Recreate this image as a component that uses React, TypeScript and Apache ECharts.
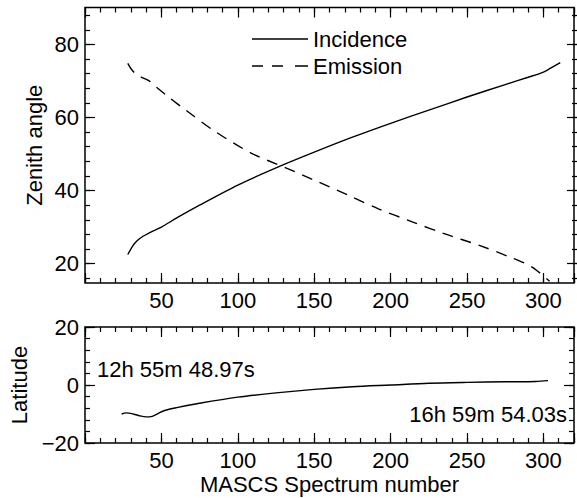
import React, { useEffect, useRef } from "react";
import * as echarts from "echarts";

// ---- data ----
const incidenceX = [28, 30, 32, 35, 38, 42, 46, 50, 60, 75, 100, 125, 150, 175, 200, 225, 250, 275, 290, 300, 305, 311];
const incidenceY = [22.5, 24.0, 25.3, 26.6, 27.5, 28.4, 29.2, 30.0, 32.5, 36.0, 41.5, 46.2, 50.5, 54.6, 58.4, 62.0, 65.6, 69.0, 71.0, 72.4, 73.6, 75.0];

const emissionX = [28, 30, 33, 37, 42, 47, 55, 66, 85, 109, 131, 153, 175, 192, 215, 235, 258, 278, 292, 304];
const emissionY = [74.8, 73.4, 72.0, 71.0, 70.0, 68.2, 65.5, 62.0, 56.2, 50.2, 46.3, 42.3, 38.2, 35.0, 31.3, 28.2, 25.0, 21.8, 19.2, 15.2];

const latitudeX = [24, 27, 30, 35, 40, 44, 48, 52, 60, 75, 100, 125, 150, 175, 200, 225, 250, 275, 295, 303];
const latitudeY = [-10.0, -9.6, -9.8, -10.5, -11.0, -10.8, -9.8, -8.8, -7.8, -6.3, -4.2, -2.7, -1.5, -0.6, 0.0, 0.6, 0.9, 1.1, 1.2, 1.5];

const seriesNames = ["Incidence", "Emission"];
const timeStart = "12h 55m 48.97s";
const timeEnd = "16h 59m 54.03s";

const xRange = [0, 320];
const zenithRange = [14.7, 90.1];
const latRange = [-20, 20];

// ---- layout ----
const FONT = "'Liberation Sans', Arial, Helvetica, sans-serif";
const FS = 22;
const LEFT = 85;
const WIDTH = 496;
const TOP1 = 7.5;
const H1 = 275.5;
const TOP2 = 327;
const H2 = 116;
const MAJ = 10;
const MIN = 5;

const SOLID_ICON = "path://M0,0H56V1.4H0Z";
const DASH_ICON = "path://M0,0H11V1.4H0Z M20,0H31V1.4H20Z M43,0H56V1.4H43Z";

const zip = (xs: number[], ys: number[]) => xs.map((x, i) => [x, ys[i]]);

const py1 = (v: number) => TOP1 + ((zenithRange[1] - v) / (zenithRange[1] - zenithRange[0])) * H1;

const tickStyle = (len: number) => ({
  show: true,
  inside: true,
  length: len,
  lineStyle: { color: "#000", width: 1.2 },
});

const hiddenLabel = { show: false };
const noLine = { show: false, onZero: false };

function xAxesFor(gridIndex: number, extra: any = {}) {
  const base = {
    type: "value",
    gridIndex,
    min: xRange[0],
    max: xRange[1],
    axisLine: noLine,
    splitLine: { show: false },
  };
  return [
    {
      ...base,
      position: "bottom",
      interval: 50,
      axisTick: tickStyle(MAJ),
      axisLabel: {
        show: true,
        fontSize: FS,
        fontFamily: FONT,
        color: "#000",
        margin: 6,
        formatter: (v: number) => (v > 0 && v % 50 === 0 ? String(v) : ""),
      },
      ...extra,
    },
    { ...base, position: "bottom", interval: 10, axisTick: tickStyle(MIN), axisLabel: hiddenLabel },
    { ...base, position: "top", interval: 50, axisTick: tickStyle(MAJ), axisLabel: hiddenLabel },
    { ...base, position: "top", interval: 10, axisTick: tickStyle(MIN), axisLabel: hiddenLabel },
  ];
}

const hiddenX = (gridIndex: number) => ({
  type: "value",
  gridIndex,
  min: xRange[0],
  max: xRange[1],
  show: false,
});

const yLabel = {
  show: true,
  fontSize: FS,
  fontFamily: FONT,
  color: "#000",
  margin: 6,
  formatter: (v: number) => String(v).replace("-", "\u2212"),
};

export default function App() {
  const ref = useRef<HTMLDivElement>(null);

  useEffect(() => {
    if (!ref.current) return;
    const chart = echarts.init(ref.current, null, { renderer: "svg" });

    const grids = [
      { left: LEFT, top: TOP1, width: WIDTH, height: H1, show: true, borderColor: "#000", borderWidth: 1.5, backgroundColor: "transparent" },
      { left: LEFT, top: py1(80), width: WIDTH, height: py1(20) - py1(80), show: false },
      { left: LEFT, top: py1(88), width: WIDTH, height: py1(16) - py1(88), show: false },
      { left: LEFT, top: TOP2, width: WIDTH, height: H2, show: true, borderColor: "#000", borderWidth: 1.5, backgroundColor: "transparent" },
    ];

    const xAxis = [
      ...xAxesFor(0), // 0-3
      hiddenX(1), // 4
      hiddenX(2), // 5
      ...xAxesFor(3, {
        name: "MASCS Spectrum number",
        nameLocation: "middle",
        nameGap: 30,
        nameTextStyle: { fontSize: FS, fontFamily: FONT, color: "#000" },
      }), // 6-9
    ];

    const yBase = { type: "value", axisLine: noLine, splitLine: { show: false } };
    const yAxis = [
      {
        ...yBase,
        gridIndex: 0,
        min: zenithRange[0],
        max: zenithRange[1],
        axisTick: { show: false },
        axisLabel: hiddenLabel,
        name: "Zenith angle",
        nameLocation: "middle",
        nameGap: 40,
        nameTextStyle: { fontSize: FS, fontFamily: FONT, color: "#000" },
      }, // 0
      { ...yBase, gridIndex: 1, min: 20, max: 80, interval: 20, position: "left", axisTick: tickStyle(MAJ), axisLabel: yLabel }, // 1
      { ...yBase, gridIndex: 1, min: 20, max: 80, interval: 20, position: "right", axisTick: tickStyle(MAJ), axisLabel: hiddenLabel }, // 2
      { ...yBase, gridIndex: 2, min: 16, max: 88, interval: 4, position: "left", axisTick: tickStyle(MIN), axisLabel: hiddenLabel }, // 3
      { ...yBase, gridIndex: 2, min: 16, max: 88, interval: 4, position: "right", axisTick: tickStyle(MIN), axisLabel: hiddenLabel }, // 4
      {
        ...yBase,
        gridIndex: 3,
        min: latRange[0],
        max: latRange[1],
        interval: 20,
        position: "left",
        axisTick: tickStyle(MAJ),
        axisLabel: yLabel,
        name: "Latitude",
        nameLocation: "middle",
        nameGap: 40,
        nameTextStyle: { fontSize: FS, fontFamily: FONT, color: "#000" },
      }, // 5
      { ...yBase, gridIndex: 3, min: latRange[0], max: latRange[1], interval: 4, position: "left", axisTick: tickStyle(MIN), axisLabel: hiddenLabel }, // 6
      { ...yBase, gridIndex: 3, min: latRange[0], max: latRange[1], interval: 20, position: "right", axisTick: tickStyle(MAJ), axisLabel: hiddenLabel }, // 7
      { ...yBase, gridIndex: 3, min: latRange[0], max: latRange[1], interval: 4, position: "right", axisTick: tickStyle(MIN), axisLabel: hiddenLabel }, // 8
    ];

    chart.setOption({
      animation: false,
      backgroundColor: "#fff",
      textStyle: { fontFamily: FONT },
      grid: grids,
      xAxis,
      yAxis,
      legend: {
        data: [
          { name: seriesNames[0], icon: SOLID_ICON },
          { name: seriesNames[1], icon: DASH_ICON },
        ],
        orient: "vertical",
        left: 252,
        top: 28,
        padding: 0,
        itemWidth: 56,
        itemHeight: 20,
        itemGap: 5,
        symbolKeepAspect: true,
        itemStyle: { color: "#000", borderWidth: 0 },
        textStyle: { fontSize: FS, fontFamily: FONT, color: "#000", lineHeight: 20 },
        selectedMode: false,
      },
      graphic: [
        {
          type: "text",
          left: 97,
          top: 358,
          style: { text: timeStart, fontSize: FS, fontFamily: FONT, fill: "#000" },
        },
        {
          type: "text",
          right: 10,
          top: 403,
          style: { text: timeEnd, fontSize: FS, fontFamily: FONT, fill: "#000" },
        },
      ],
      series: [
        {
          name: seriesNames[0],
          type: "line",
          xAxisIndex: 0,
          yAxisIndex: 0,
          data: zip(incidenceX, incidenceY),
          symbol: "none",
          smooth: 0.3,
          lineStyle: { color: "#000", width: 1.4, type: "solid" },
          itemStyle: { color: "#000" },
        },
        {
          name: seriesNames[1],
          type: "line",
          xAxisIndex: 0,
          yAxisIndex: 0,
          data: zip(emissionX, emissionY),
          symbol: "none",
          smooth: 0.3,
          lineStyle: { color: "#000", width: 1.4, type: [11, 8] },
          itemStyle: { color: "#000" },
        },
        {
          name: "Latitude",
          type: "line",
          xAxisIndex: 6,
          yAxisIndex: 5,
          data: zip(latitudeX, latitudeY),
          symbol: "none",
          smooth: 0.3,
          lineStyle: { color: "#000", width: 1.4 },
          itemStyle: { color: "#000" },
        },
      ],
    });

    return () => chart.dispose();
  }, []);

  return (
    <div
      ref={ref}
      style={{ position: "fixed", left: 0, top: 0, width: 577, height: 498, background: "#fff" }}
    />
  );
}
